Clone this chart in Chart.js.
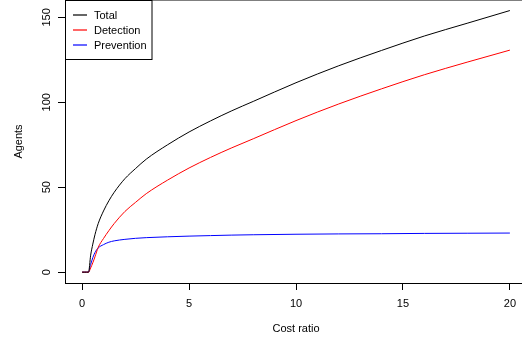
<!DOCTYPE html>
<html>
<head>
<meta charset="utf-8">
<script src="https://cdn.jsdelivr.net/npm/chart.js@4/dist/chart.umd.min.js"></script>
<style>
  html, body { margin: 0; padding: 0; background: #fff; overflow: hidden; width: 522px; height: 346px; }
  canvas { display: block; }
</style>
</head>
<body>
<canvas id="c" width="527" height="346"></canvas>
<script>
const costRatio  = [0, 0.1, 0.2, 0.3, 0.4, 0.5, 0.6, 0.75, 1, 1.25, 1.5, 2, 2.5, 3, 4, 5, 6, 7, 8, 10, 12, 14, 16, 18, 20];
const total      = [0, 0, 0, 0, 10, 16.5, 22, 28.5, 36, 42, 47, 55, 61, 66.5, 75, 82.5, 89, 95, 100.5, 111.5, 121.5, 130.5, 139, 146.5, 154];
const detection  = [0, 0, 0, 0, 2.5, 5.5, 9, 14.5, 19.8, 24.4, 28.6, 35.7, 41.1, 46.2, 54.2, 61.3, 67.5, 73.2, 78.5, 89.2, 99, 107.9, 116.2, 123.6, 130.7];
const prevention = [0, 0, 0, 0, 4.5, 8.5, 11.5, 14.2, 16.2, 17.6, 18.4, 19.3, 19.9, 20.3, 20.8, 21.2, 21.5, 21.8, 22, 22.3, 22.5, 22.6, 22.8, 22.9, 23];
const seriesNames = ['Total', 'Detection', 'Prevention'];
const xTicks = [0, 5, 10, 15, 20];
const yTicks = [0, 50, 100, 150];
const xTitle = 'Cost ratio';
const yTitle = 'Agents';

const FONT = 'Liberation Sans, Arial, Helvetica, sans-serif';
const toPts = arr => arr.map((v, i) => ({ x: costRatio[i], y: v }));
const colors = ['#000000', '#ff0000', '#0000ff'];
const seriesData = [total, detection, prevention];

const rAxes = {
  id: 'rAxes',
  afterDraw(chart) {
    const ctx = chart.ctx;
    const ca = chart.chartArea;
    const ys = chart.scales.y;
    ctx.save();
    // box top line
    ctx.strokeStyle = '#000';
    ctx.lineWidth = 1;
    ctx.beginPath();
    ctx.moveTo(ca.left, ca.top);
    ctx.lineTo(ca.right, ca.top);
    ctx.stroke();
    // y tick labels rotated (R style)
    ctx.fillStyle = '#000';
    ctx.font = '11px ' + FONT;
    ctx.textAlign = 'center';
    ctx.textBaseline = 'alphabetic';
    yTicks.forEach(v => {
      const py = ys.getPixelForValue(v);
      ctx.save();
      ctx.translate(50, py);
      ctx.rotate(-Math.PI / 2);
      ctx.fillText(String(v), 0, 0);
      ctx.restore();
    });
    // legend
    const lx = ca.left, ly = ca.top, lw = 87, lh = 59;
    ctx.fillStyle = '#fff';
    ctx.fillRect(lx, ly, lw, lh);
    ctx.strokeStyle = '#000';
    ctx.strokeRect(lx + 0.5, ly + 0.5, lw - 0.5, lh);
    ctx.textAlign = 'left';
    ctx.textBaseline = 'middle';
    seriesNames.forEach((name, i) => {
      const yy = 15 + i * 15;
      ctx.strokeStyle = colors[i];
      ctx.lineWidth = 1.2;
      ctx.beginPath();
      ctx.moveTo(lx + 8, yy);
      ctx.lineTo(lx + 22, yy);
      ctx.stroke();
      ctx.fillStyle = '#000';
      ctx.fillText(name, lx + 29, yy + 0.5);
    });
    ctx.restore();
  }
};

new Chart(document.getElementById('c'), {
  type: 'line',
  data: {
    datasets: seriesNames.map((name, i) => ({
      label: name,
      data: toPts(seriesData[i]),
      borderColor: colors[i],
      backgroundColor: colors[i],
      borderWidth: 1,
      pointRadius: 0,
      fill: false,
      cubicInterpolationMode: 'monotone'
    }))
  },
  options: {
    responsive: false,
    devicePixelRatio: 1,
    animation: false,
    layout: { padding: 0 },
    plugins: { legend: { display: false }, tooltip: { enabled: false } },
    scales: {
      x: {
        type: 'linear',
        min: -0.8,
        max: 20.8,
        afterBuildTicks: s => { s.ticks = xTicks.map(v => ({ value: v })); },
        afterFit: s => { s.height = 63; },
        grid: { display: true, drawOnChartArea: false, drawTicks: true, tickLength: 7, color: '#000', tickWidth: 1 },
        border: { display: true, color: '#000', width: 1 },
        ticks: { color: '#000', font: { family: FONT, size: 11 }, padding: 7, maxRotation: 0 },
        title: { display: true, text: xTitle, color: '#000', font: { family: FONT, size: 11 }, padding: { top: 0, bottom: 10 } }
      },
      y: {
        type: 'linear',
        min: -6.4,
        max: 160.2,
        afterBuildTicks: s => { s.ticks = yTicks.map(v => ({ value: v })); },
        afterFit: s => { s.width = 65; },
        grid: { display: true, drawOnChartArea: false, drawTicks: true, tickLength: 7, color: '#000', tickWidth: 1 },
        border: { display: true, color: '#000', width: 1 },
        ticks: { display: false },
        title: { display: true, text: yTitle, color: '#000', font: { family: FONT, size: 11 }, padding: { top: 12, bottom: 0 } }
      }
    }
  },
  plugins: [rAxes]
});
</script>
</body>
</html>
